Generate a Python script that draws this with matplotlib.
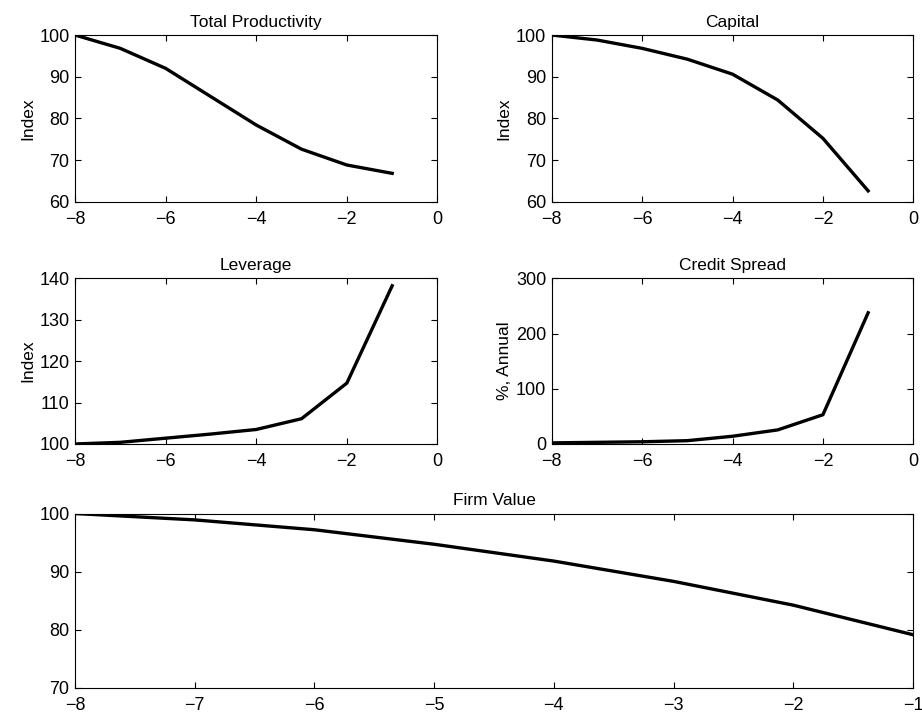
import matplotlib
matplotlib.use("Agg")
import matplotlib.pyplot as plt

plt.rcParams['font.family'] = ['Liberation Sans', 'DejaVu Sans']
plt.rcParams['font.size'] = 12.5

# quarters before the event
quarters = [-8, -7, -6, -5, -4, -3, -2, -1]

productivity = [100, 96.8, 92.0, 85.2, 78.4, 72.6, 68.8, 66.8]
capital = [100, 98.8, 96.8, 94.2, 90.6, 84.4, 75.2, 62.6]
leverage = [100, 100.4, 101.4, 102.4, 103.5, 106.1, 114.7, 138.2]
credit_spread = [2, 3, 4, 6, 14, 25.5, 53, 237.6]
firm_value = [100, 98.9, 97.2, 94.7, 91.8, 88.3, 84.2, 79.1]


def style_axes(ax):
    ax.tick_params(direction='in', top=True, right=True, length=4, width=0.8,
                   labelsize=13)
    ax.tick_params(axis='x', pad=6.5)
    ax.tick_params(axis='y', pad=4)
    for s in ax.spines.values():
        s.set_linewidth(0.8)


fig = plt.figure(figsize=(9.22, 7.19), dpi=100)

panels = [
    ([0.0813, 0.7195, 0.3932, 0.2318], productivity, 'Total Productivity', 'Index', (60, 100), [60, 70, 80, 90, 100]),
    ([0.5984, 0.7195, 0.3922, 0.2318], capital, 'Capital', 'Index', (60, 100), [60, 70, 80, 90, 100]),
    ([0.0813, 0.3825, 0.3932, 0.2304], leverage, 'Leverage', 'Index', (100, 140), [100, 110, 120, 130, 140]),
    ([0.5984, 0.3825, 0.3922, 0.2304], credit_spread, 'Credit Spread', '%, Annual', (0, 300), [0, 100, 200, 300]),
]

for rect, series, title, ylabel, ylim, yticks in panels:
    ax = fig.add_axes(rect)
    ax.plot(quarters, series, color='black', lw=2.4)
    ax.set_xlim(-8, 0)
    ax.set_xticks([-8, -6, -4, -2, 0])
    ax.set_ylim(*ylim)
    ax.set_yticks(yticks)
    ax.set_title(title, fontsize=12.5, pad=6)
    ax.set_ylabel(ylabel, fontsize=12.5, labelpad=3)
    style_axes(ax)

ax = fig.add_axes([0.0813, 0.0438, 0.9089, 0.242])
ax.plot(quarters, firm_value, color='black', lw=2.4)
ax.set_xlim(-8, -1)
ax.set_xticks(quarters)
ax.set_ylim(70, 100)
ax.set_yticks([70, 80, 90, 100])
ax.set_title('Firm Value', fontsize=12.5, pad=6)
style_axes(ax)

fig.savefig('out.png', dpi=100)
